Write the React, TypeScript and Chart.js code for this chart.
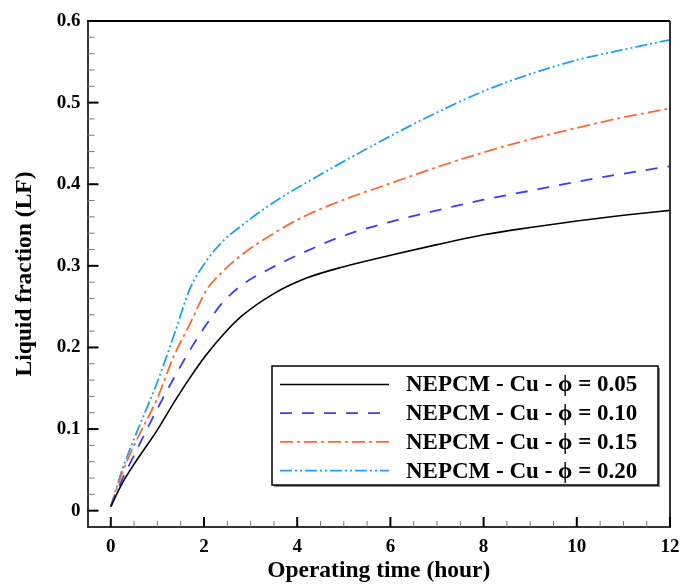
import React, { useEffect, useRef } from "react";
import { Chart, registerables } from "chart.js";

Chart.register(...registerables);

// ---- data ----
const timeHours = [0, 0.25, 0.5, 1, 1.35, 1.7, 2.05, 2.4, 2.8, 3.5, 4.2, 5, 6, 7, 8, 9, 10, 11, 12];
const lfPhi005 = [0.005, 0.034, 0.057, 0.099, 0.132, 0.163, 0.191, 0.215, 0.238, 0.266, 0.285, 0.299, 0.313, 0.326, 0.338, 0.347, 0.355, 0.362, 0.368];
const lfPhi010 = [0.005, 0.039, 0.068, 0.125, 0.162, 0.197, 0.228, 0.255, 0.276, 0.299, 0.318, 0.337, 0.354, 0.368, 0.381, 0.392, 0.403, 0.413, 0.422];
const lfPhi015 = [0.005, 0.047, 0.080, 0.138, 0.189, 0.229, 0.270, 0.293, 0.313, 0.340, 0.362, 0.381, 0.401, 0.421, 0.439, 0.455, 0.469, 0.482, 0.493];
const lfPhi020 = [0.005, 0.051, 0.088, 0.158, 0.214, 0.272, 0.306, 0.330, 0.349, 0.378, 0.402, 0.428, 0.459, 0.488, 0.514, 0.535, 0.552, 0.565, 0.577];

const seriesLabels = [
  "NEPCM - Cu - \u03D5 = 0.05",
  "NEPCM - Cu - \u03D5 = 0.10",
  "NEPCM - Cu - \u03D5 = 0.15",
  "NEPCM - Cu - \u03D5 = 0.20",
];
const seriesColors = ["#000000", "#3c3cff", "#ff6a30", "#1aa3f5"];
const seriesDashes: number[][] = [[], [12, 10], [13, 4, 3, 4], [12, 3, 2, 3, 2, 3]];

const xTickValues = [0, 2, 4, 6, 8, 10, 12];
const yTickValues = [0, 0.1, 0.2, 0.3, 0.4, 0.5, 0.6];

const FONT = "'Liberation Serif', 'Times New Roman', serif";

const framePlugin = {
  id: "frameTicks",
  afterDraw(chart: any) {
    const { ctx, chartArea: a, scales } = chart;
    const x = scales.x;
    const y = scales.y;
    ctx.save();
    ctx.lineCap = "butt";
    ctx.strokeStyle = "#000";
    ctx.lineWidth = 2;
    ctx.beginPath();
    ctx.moveTo(a.left, a.top);
    ctx.lineTo(a.right, a.top);
    ctx.stroke();
    ctx.strokeStyle = "#333";
    ctx.beginPath();
    ctx.moveTo(a.right, a.top);
    ctx.lineTo(a.right, a.bottom);
    ctx.stroke();
    for (let i = 0; i <= 24; i++) {
      const v = i * 0.5;
      const major = i % 4 === 0;
      const px = x.getPixelForValue(v);
      ctx.strokeStyle = major ? "#000" : "#777";
      ctx.lineWidth = major ? 2 : 1;
      ctx.beginPath();
      ctx.moveTo(px, a.bottom);
      ctx.lineTo(px, a.bottom - (major ? 10 : 6));
      ctx.stroke();
    }
    for (let i = 0; i <= 30; i++) {
      const v = i * 0.02;
      const major = i % 5 === 0;
      const py = y.getPixelForValue(v);
      ctx.strokeStyle = major ? "#000" : "#777";
      ctx.lineWidth = major ? 2 : 1;
      ctx.beginPath();
      ctx.moveTo(a.left, py);
      ctx.lineTo(a.left + (major ? 11 : 7), py);
      ctx.stroke();
    }
    ctx.restore();
  },
};

const legendPlugin = {
  id: "boxLegend",
  afterDraw(chart: any) {
    const { ctx, chartArea: a } = chart;
    const right = a.right - 12;
    const bottom = a.bottom - 42;
    const w = 386;
    const h = 119;
    const left = right - w;
    const top = bottom - h;
    ctx.save();
    ctx.fillStyle = "#888";
    ctx.fillRect(left + 2, top + 2, w, h);
    ctx.fillStyle = "#fff";
    ctx.fillRect(left, top, w, h);
    ctx.strokeStyle = "#000";
    ctx.lineWidth = 1.5;
    ctx.strokeRect(left, top, w, h);
    const dsets = chart.data.datasets;
    ctx.font = `bold 23px ${FONT}`;
    ctx.textBaseline = "middle";
    ctx.textAlign = "left";
    dsets.forEach((ds: any, i: number) => {
      const cy = top + 18.5 + i * 28.7;
      ctx.strokeStyle = ds.borderColor;
      ctx.lineWidth = ds.borderWidth;
      ctx.setLineDash(ds.borderDash || []);
      ctx.beginPath();
      ctx.moveTo(left + 8, cy);
      ctx.lineTo(left + 117, cy);
      ctx.stroke();
      ctx.setLineDash([]);
      ctx.fillStyle = "#000";
      ctx.fillText(ds.label, left + 134, cy + 1);
    });
    ctx.restore();
  },
};

export default function App() {
  const ref = useRef<HTMLCanvasElement | null>(null);
  useEffect(() => {
    if (!ref.current) return;
    const series = [lfPhi005, lfPhi010, lfPhi015, lfPhi020];
    const chart = new Chart(ref.current, {
      type: "line",
      data: {
        datasets: series.map((s, i) => ({
          label: seriesLabels[i],
          data: timeHours.map((t, j) => ({ x: t, y: s[j] })),
          borderColor: seriesColors[i],
          borderWidth: i === 0 ? 1.6 : 1.8,
          borderDash: seriesDashes[i],
          pointRadius: 0,
          fill: false,
          cubicInterpolationMode: "monotone" as const,
        })),
      },
      options: {
        responsive: false,
        animation: false,
        layout: { padding: { top: 21, right: 11, left: 0, bottom: 0 } },
        plugins: { legend: { display: false }, tooltip: { enabled: false } },
        scales: {
          x: {
            type: "linear",
            min: -0.5,
            max: 12,
            grid: { display: false, drawTicks: false },
            border: { display: true, color: "#333", width: 2 },
            afterBuildTicks: (scale: any) => {
              scale.ticks = xTickValues.map((v) => ({ value: v }));
            },
            afterFit: (scale: any) => {
              scale.height = 58;
              scale.paddingLeft = 0;
              scale.paddingRight = 0;
            },
            ticks: {
              color: "#000",
              padding: 9,
              maxRotation: 0,
              autoSkip: false,
              font: { family: FONT, size: 19, weight: "bold" },
              callback: (v: any) => String(v),
            },
            title: {
              display: true,
              text: "Operating time (hour)",
              color: "#000",
              padding: { top: 0, bottom: 0 },
              font: { family: FONT, size: 23.5, weight: "bold" },
            },
          },
          y: {
            type: "linear",
            min: -0.02,
            max: 0.6,
            grid: { display: false, drawTicks: false },
            border: { display: true, color: "#333", width: 2 },
            afterBuildTicks: (scale: any) => {
              scale.ticks = yTickValues.map((v) => ({ value: v }));
            },
            afterFit: (scale: any) => {
              scale.width = 87.5;
              scale.paddingTop = 0;
              scale.paddingBottom = 0;
            },
            ticks: {
              color: "#000",
              padding: 7,
              autoSkip: false,
              font: { family: FONT, size: 19, weight: "bold" },
              callback: (v: any) => (Number(v) === 0 ? "0" : Number(v).toFixed(1)),
            },
            title: {
              display: true,
              text: "Liquid fraction (LF)",
              color: "#000",
              padding: { top: 11, bottom: 0 },
              font: { family: FONT, size: 23.5, weight: "bold" },
            },
          },
        },
      },
      plugins: [framePlugin, legendPlugin],
    } as any);
    return () => chart.destroy();
  }, []);
  return (
    <div style={{ position: "fixed", left: 0, top: 0, width: 681, height: 585, background: "#fff" }}>
      <canvas ref={ref} width={681} height={585} style={{ display: "block" }} />
    </div>
  );
}
